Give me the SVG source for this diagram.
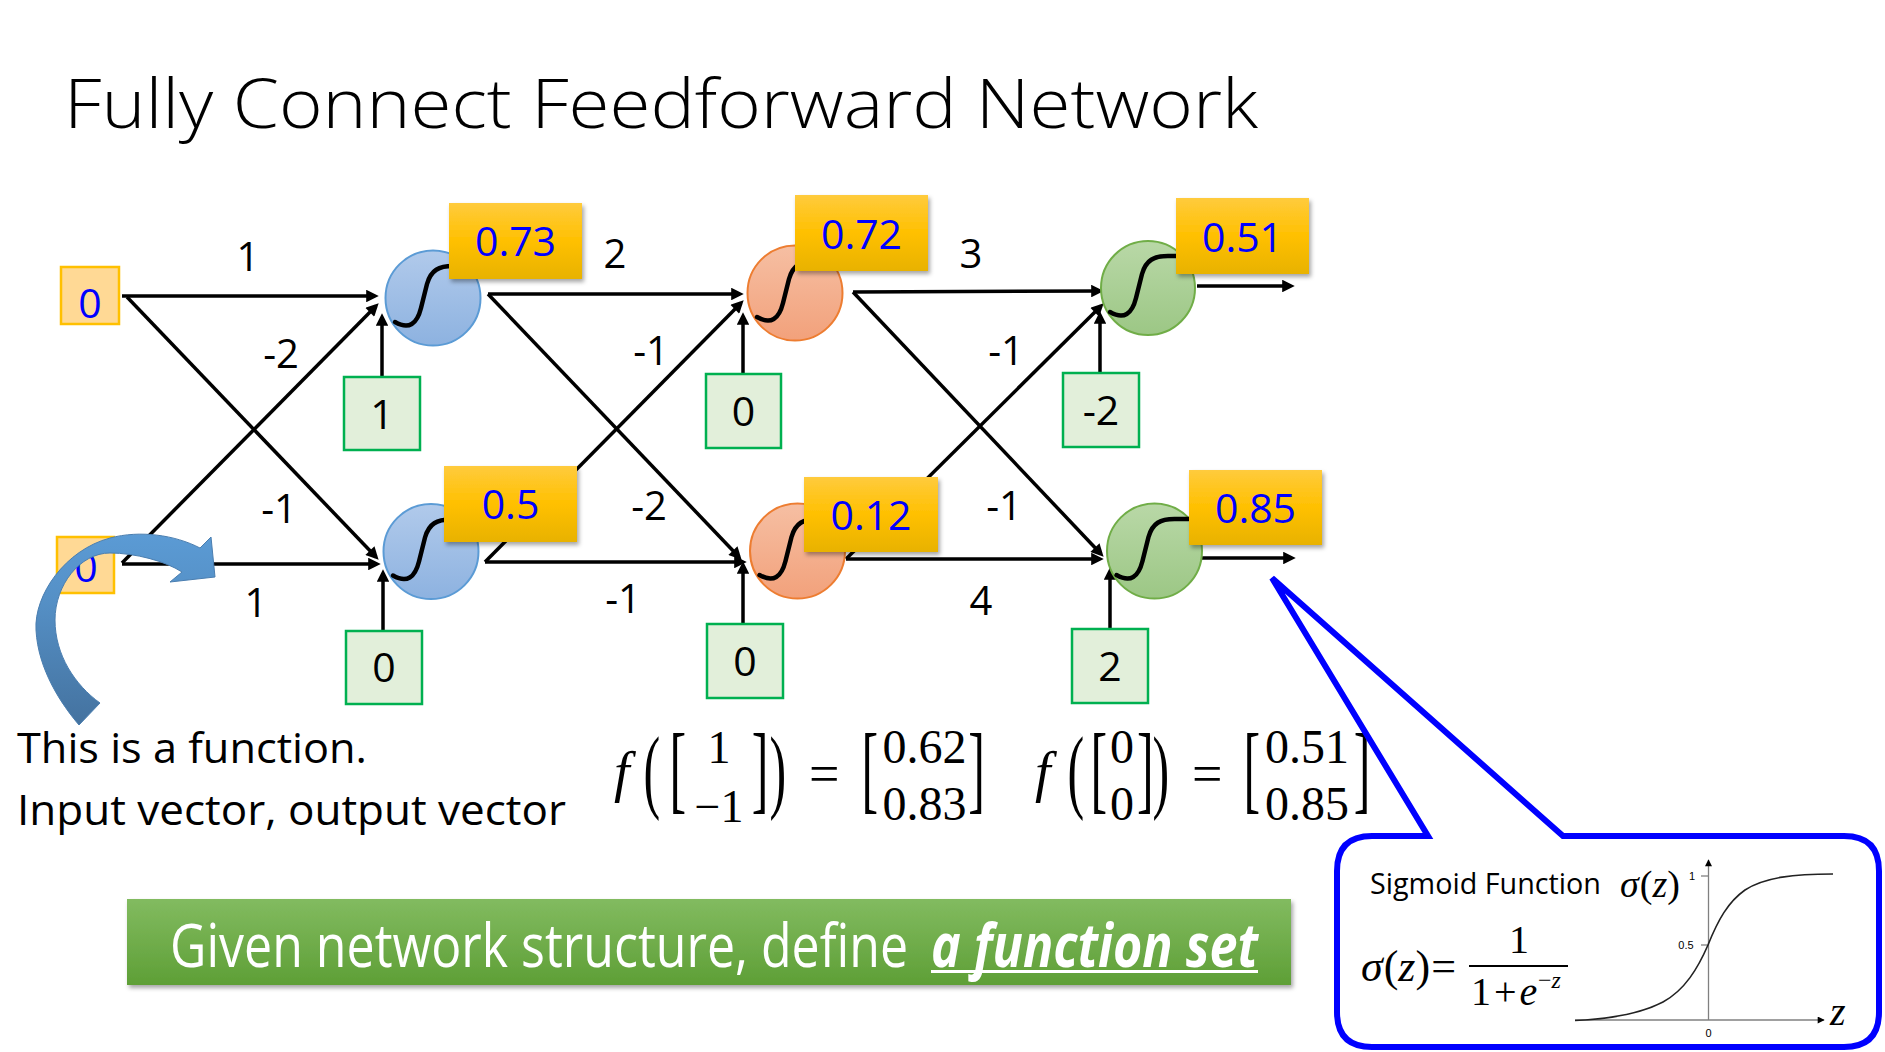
<svg xmlns="http://www.w3.org/2000/svg" width="1885" height="1052" viewBox="0 0 1885 1052">
<style>
.t{font-family:"Open Sans","Noto Sans","Liberation Sans",sans-serif}
.w{font-family:"Open Sans","Noto Sans","Liberation Sans",sans-serif;font-size:40px;fill:#000;text-anchor:middle}
.lv{font-family:"Open Sans","Noto Sans","Liberation Sans",sans-serif;font-size:41px;fill:#0000FF;text-anchor:middle}
.bv{font-family:"Open Sans","Noto Sans","Liberation Sans",sans-serif;font-size:41px;fill:#000;text-anchor:middle}
.m{font-family:"Liberation Serif","Times New Roman",serif;fill:#000}
.it{font-style:italic}
.br{font-family:"Liberation Serif","Times New Roman",serif;fill:#000;font-size:50px}
.lbl{fill:url(#gold);filter:url(#sh)}
.bias{fill:#E2EFDA;stroke:#00B050;stroke-width:2.5}
.inp{fill:#FFD995;stroke:#FFC000;stroke-width:2.5}
.c1{fill:url(#gblue);stroke:#5B9BD5;stroke-width:2}
.c2{fill:url(#gorange);stroke:#ED7D31;stroke-width:2}
.c3{fill:url(#ggreen);stroke:#70AD47;stroke-width:2}
.s{fill:none;stroke:#000;stroke-width:4.5;stroke-linecap:round}
.cn{fill:none;stroke:#000;stroke-width:3.5;marker-end:url(#ah)}
.ax{fill:none;stroke:#808080;stroke-width:1.3}
</style>
<defs>
<marker id="ah" viewBox="0 0 10 10" refX="7" refY="5" markerWidth="4.2" markerHeight="3.6" orient="auto" markerUnits="strokeWidth"><path d="M0,0 L10,5 L0,10 z" fill="#000"/></marker>
<marker id="ah2" viewBox="0 0 10 10" refX="9" refY="5" markerWidth="10" markerHeight="7" orient="auto" markerUnits="userSpaceOnUse"><path d="M0,0 L10,5 L0,10 z" fill="#000"/></marker>
<linearGradient id="gold" x1="0" y1="0" x2="0" y2="1"><stop offset="0" stop-color="#FFCB3D"/><stop offset="0.5" stop-color="#FFC000"/><stop offset="1" stop-color="#E8B200"/></linearGradient>
<linearGradient id="gblue" x1="0" y1="0" x2="0" y2="1"><stop offset="0" stop-color="#B1CAEB"/><stop offset="1" stop-color="#8DB2E0"/></linearGradient>
<linearGradient id="gorange" x1="0" y1="0" x2="0" y2="1"><stop offset="0" stop-color="#F6BFA3"/><stop offset="1" stop-color="#F2A17B"/></linearGradient>
<linearGradient id="ggreen" x1="0" y1="0" x2="0" y2="1"><stop offset="0" stop-color="#B9D8A7"/><stop offset="1" stop-color="#9CC785"/></linearGradient>
<linearGradient id="gban" x1="0" y1="0" x2="0" y2="1"><stop offset="0" stop-color="#82BB60"/><stop offset="1" stop-color="#5E9F36"/></linearGradient>
<linearGradient id="garr" gradientUnits="userSpaceOnUse" x1="0" y1="532" x2="0" y2="725"><stop offset="0" stop-color="#5B9BD5"/><stop offset="0.35" stop-color="#5590C6"/><stop offset="1" stop-color="#44729F"/></linearGradient>
<filter id="sh" x="-10%" y="-10%" width="130%" height="140%"><feDropShadow dx="2" dy="3" stdDeviation="2" flood-color="#000" flood-opacity="0.35"/></filter>
<path id="sig" d="M-38,24 C-24,32 -16,26 -12,10 L-6,-14 C-2,-28 6,-32 20,-32 L34,-32"/>
</defs>
<rect width="1885" height="1052" fill="#fff"/>

<text class="t" x="64" y="128" font-size="68" font-weight="300" textLength="1194" lengthAdjust="spacingAndGlyphs">Fully Connect Feedforward Network</text>

<g id="connectors">
<path class="cn" d="M122,296 L375,296"/>
<path class="cn" d="M127,297 L376,557"/>
<path class="cn" d="M122,563 L376,306"/>
<path class="cn" d="M122,564 L377,564"/>
<path class="cn" d="M488,294 L740,294"/>
<path class="cn" d="M488,294 L739,557"/>
<path class="cn" d="M485,562 L741,303"/>
<path class="cn" d="M485,562 L743,562"/>
<path class="cn" d="M853,292 L1100,291"/>
<path class="cn" d="M853,292 L1101,554"/>
<path class="cn" d="M846,559 L1101,306"/>
<path class="cn" d="M846,559 L1100,559"/>
<path class="cn" d="M382,377 L382,317"/>
<path class="cn" d="M383,631 L383,573"/>
<path class="cn" d="M743,374 L743,316"/>
<path class="cn" d="M743,624 L743,565"/>
<path class="cn" d="M1100,373 L1100,315"/>
<path class="cn" d="M1110,629 L1110,571"/>
<path class="cn" d="M1197,286 L1291,286"/>
<path class="cn" d="M1202,558 L1292,558"/>
<text class="w" x="248" y="271">1</text>
<text class="w" x="281" y="368">-2</text>
<text class="w" x="279" y="523">-1</text>
<text class="w" x="256" y="617">1</text>
<text class="w" x="615" y="268">2</text>
<text class="w" x="651" y="365">-1</text>
<text class="w" x="649" y="520">-2</text>
<text class="w" x="623" y="613">-1</text>
<text class="w" x="971" y="268">3</text>
<text class="w" x="1006" y="365">-1</text>
<text class="w" x="1004" y="520">-1</text>
<text class="w" x="981" y="615">4</text>
</g>

<g id="in1"><rect class="inp" x="61" y="267" width="58" height="57"/><text class="lv" x="90" y="318">0</text></g>
<g id="in2"><rect class="inp" x="57" y="537" width="57" height="56"/><text class="lv" x="86" y="582">0</text></g>

<g id="h11"><circle class="c1" cx="433" cy="298" r="47.5"/><use href="#sig" class="s" transform="translate(433,298)"/><rect class="lbl" x="449" y="203" width="133" height="76"/><text class="lv" x="515.5" y="256">0.73</text></g>
<g id="b11"><rect class="bias" x="344" y="377" width="76" height="73"/><text class="bv" x="382" y="428.5">1</text></g>
<g id="h12"><circle class="c1" cx="431" cy="551.5" r="47.5"/><use href="#sig" class="s" transform="translate(431,551.5)"/><rect class="lbl" x="444" y="466" width="133" height="76"/><text class="lv" x="510.5" y="519">0.5</text></g>
<g id="b12"><rect class="bias" x="346" y="631" width="76" height="73"/><text class="bv" x="384" y="682">0</text></g>

<g id="h21"><circle class="c2" cx="795" cy="293" r="47.5"/><use href="#sig" class="s" transform="translate(795,293)"/><rect class="lbl" x="795" y="195" width="133" height="76"/><text class="lv" x="861.5" y="249">0.72</text></g>
<g id="b21"><rect class="bias" x="706" y="374" width="75" height="74"/><text class="bv" x="743.5" y="426">0</text></g>
<g id="h22"><circle class="c2" cx="797.5" cy="551" r="47.5"/><use href="#sig" class="s" transform="translate(797.5,551)"/><rect class="lbl" x="804" y="477" width="134" height="75"/><text class="lv" x="871" y="530">0.12</text></g>
<g id="b22"><rect class="bias" x="707" y="624" width="76" height="74"/><text class="bv" x="745" y="676">0</text></g>

<g id="o1"><circle class="c3" cx="1148" cy="288" r="47"/><use href="#sig" class="s" transform="translate(1148,288)"/><rect class="lbl" x="1176" y="198" width="133" height="76"/><text class="lv" x="1242.5" y="252">0.51</text></g>
<g id="b31"><rect class="bias" x="1063" y="373" width="76" height="74"/><text class="bv" x="1101" y="425">-2</text></g>
<g id="o2"><circle class="c3" cx="1154.5" cy="551" r="47.5"/><use href="#sig" class="s" transform="translate(1154.5,551)"/><rect class="lbl" x="1189" y="470" width="133" height="75"/><text class="lv" x="1255.5" y="523">0.85</text></g>
<g id="b32"><rect class="bias" x="1072" y="629" width="76" height="74"/><text class="bv" x="1110" y="681">2</text></g>

<g id="curved-arrow">
<path d="M79,725 C62,705 38,670 36,630 C34,595 65,550 110,538 C140,530 175,535 200,548 L211,537 L215,577 L170,582 L182,572 C165,561 135,553 110,553 C80,553 55,585 55,620 C55,655 75,685 100,703 Z" fill="url(#garr)" stroke="#4A7EB0" stroke-width="1"/>
</g>

<g id="caption">
<text class="t" x="17" y="763" font-size="42" textLength="350" lengthAdjust="spacingAndGlyphs">This is a function.</text>
<text class="t" x="17" y="825" font-size="42" textLength="549" lengthAdjust="spacingAndGlyphs">Input vector, output vector</text>
</g>

<g id="formula1" class="m">
<text x="614" y="791" font-size="56" class="it">f</text>
<text class="br" transform="translate(643.6,800.5) scale(1,1.86)">(</text>
<text class="br" transform="translate(669.6,800.5) scale(1,1.95)">[</text>
<text x="719" y="763" font-size="46" text-anchor="middle">1</text>
<text x="719" y="822" font-size="46" text-anchor="middle">−1</text>
<text class="br" transform="translate(751.8,800.5) scale(1,1.95)">]</text>
<text class="br" transform="translate(769.5,800.5) scale(1,1.86)">)</text>
<text x="809" y="792" font-size="54">=</text>
<text class="br" transform="translate(861.6,800.5) scale(1,1.95)">[</text>
<text x="924.5" y="763" font-size="48" text-anchor="middle">0.62</text>
<text x="924.5" y="820" font-size="48" text-anchor="middle">0.83</text>
<text class="br" transform="translate(968.3,800.5) scale(1,1.95)">]</text>
</g>
<g id="formula2" class="m">
<text x="1035" y="791" font-size="56" class="it">f</text>
<text class="br" transform="translate(1067.6,800.5) scale(1,1.86)">(</text>
<text class="br" transform="translate(1090.6,800.5) scale(1,1.95)">[</text>
<text x="1122" y="763" font-size="48" text-anchor="middle">0</text>
<text x="1122" y="820" font-size="48" text-anchor="middle">0</text>
<text class="br" transform="translate(1136.9,800.5) scale(1,1.95)">]</text>
<text class="br" transform="translate(1152.5,800.5) scale(1,1.86)">)</text>
<text x="1192" y="792" font-size="54">=</text>
<text class="br" transform="translate(1243.6,800.5) scale(1,1.95)">[</text>
<text x="1307" y="763" font-size="48" text-anchor="middle">0.51</text>
<text x="1307" y="820" font-size="48" text-anchor="middle">0.85</text>
<text class="br" transform="translate(1353.8,800.5) scale(1,1.95)">]</text>
</g>

<g id="banner">
<rect x="127" y="899" width="1164" height="86" fill="url(#gban)" filter="url(#sh)"/>
<text class="t" x="170" y="967" font-size="60" fill="#fff" textLength="738" lengthAdjust="spacingAndGlyphs">Given network structure, define</text>
<text class="t" x="931" y="967" font-size="60" fill="#fff" font-weight="bold" font-style="italic" textLength="327" lengthAdjust="spacingAndGlyphs">a function set</text>
<rect x="931" y="970" width="327" height="3" fill="#fff"/>
</g>

<g id="sigmoid-callout">
<path d="M1372,836 L1428,836 L1272,578 L1563,836 L1844,836 Q1879,836 1879,871 L1879,1012 Q1879,1047 1844,1047 L1372,1047 Q1337,1047 1337,1012 L1337,871 Q1337,836 1372,836 Z" fill="#fff" stroke="#0000FF" stroke-width="6" stroke-linejoin="miter"/>
<text class="t" x="1370" y="894" font-size="29" textLength="231" lengthAdjust="spacingAndGlyphs">Sigmoid Function</text>
<text class="m" x="1620" y="897" font-size="38"><tspan class="it">σ</tspan><tspan dx="1">(</tspan><tspan class="it">z</tspan>)</text>
<text class="m" x="1361" y="981" font-size="44"><tspan class="it">σ</tspan><tspan dx="1">(</tspan><tspan class="it">z</tspan>)<tspan dx="1">=</tspan></text>
<text class="m" x="1519" y="953" font-size="40" text-anchor="middle">1</text>
<line x1="1469" y1="966" x2="1568" y2="966" stroke="#000" stroke-width="2"/>
<text class="m" x="1471" y="1005" font-size="40">1<tspan dx="3">+</tspan><tspan dx="3" class="it">e</tspan></text>
<text class="m" x="1538" y="988" font-size="24">−<tspan class="it">z</tspan></text>
<line class="ax" x1="1575" y1="1020" x2="1824" y2="1020" marker-end="url(#ah2)"/>
<line class="ax" x1="1708.5" y1="1020" x2="1708.5" y2="860" marker-end="url(#ah2)"/>
<line class="ax" x1="1701" y1="876" x2="1708.5" y2="876"/>
<line class="ax" x1="1701" y1="945" x2="1708.5" y2="945"/>
<text x="1692" y="880" font-family="Liberation Sans,Arial,sans-serif" font-size="11" text-anchor="middle">1</text>
<text x="1686" y="949" font-family="Liberation Sans,Arial,sans-serif" font-size="11" text-anchor="middle">0.5</text>
<text x="1708.5" y="1037" font-family="Liberation Sans,Arial,sans-serif" font-size="11" text-anchor="middle">0</text>
<text class="m it" x="1830" y="1025" font-size="40">z</text>
<path d="M1575,1020.5 C1610,1019 1640,1014 1663,1002 C1685,990 1698,968 1708,945 C1718,920 1728,902 1745,890 C1765,877 1795,874 1833,874" fill="none" stroke="#222" stroke-width="1.6"/>
</g>
</svg>
